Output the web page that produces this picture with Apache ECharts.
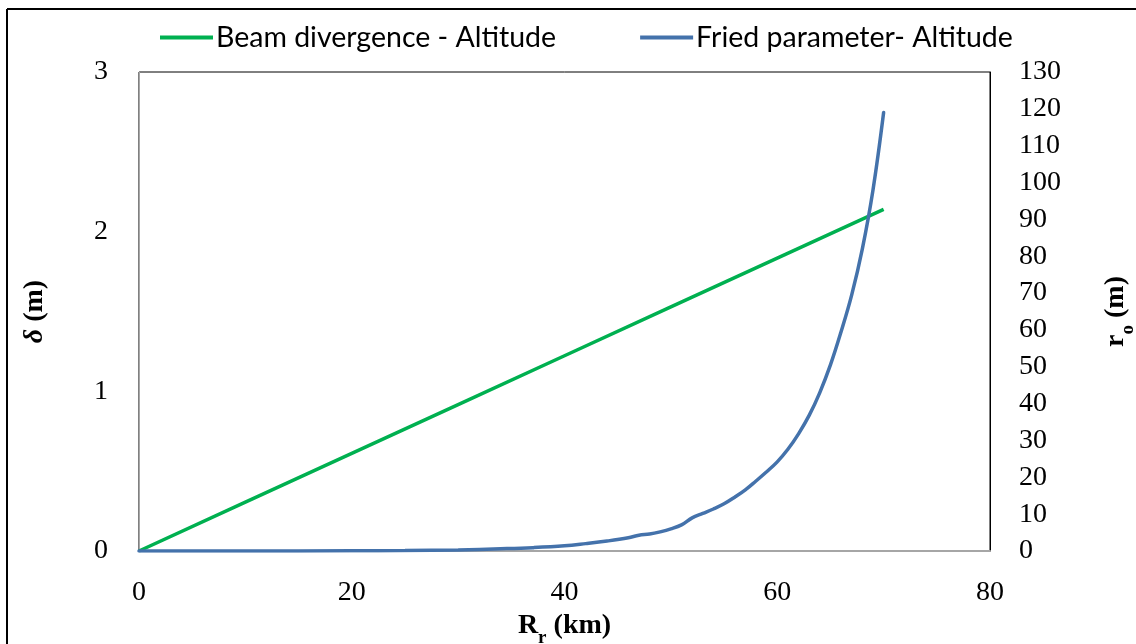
<!DOCTYPE html>
<html>
<head>
<meta charset="utf-8">
<script src="https://cdn.jsdelivr.net/npm/echarts@6/dist/echarts.min.js"></script>
<style>
  html, body { margin: 0; padding: 0; background: #fff; }
  #chart { width: 1136px; height: 644px; }
</style>
</head>
<body>
<div id="chart"></div>
<script>
// Range R_r (km) and beam divergence δ (m)
const beamKm = [0, 10, 20, 30, 40, 50, 60, 70];
const beamDelta = [0, 0.306, 0.611, 0.917, 1.223, 1.529, 1.834, 2.14];

// Range R_r (km) and Fried parameter r_o (m)
const friedKm = [0, 10, 20, 25, 30, 34, 37, 40, 42, 44, 46, 47, 48, 49, 50, 51, 52, 53, 54, 55, 56, 57, 58, 59, 60, 61, 62, 63, 64, 65, 66, 67, 68, 69, 70];
const friedR0 = [0, 0, 0.05, 0.12, 0.3, 0.6, 0.9, 1.4, 2.0, 2.7, 3.6, 4.3, 4.6, 5.2, 6.0, 7.1, 9.0, 10.2, 11.4, 12.8, 14.6, 16.6, 19.0, 21.5, 24.2, 27.6, 31.8, 36.8, 43, 50.5, 59.5, 69.5, 82, 98, 119];

const xTicks = [0, 20, 40, 60, 80];
const leftTicks = [0, 1, 2, 3];
const rightTicks = [0, 10, 20, 30, 40, 50, 60, 70, 80, 90, 100, 110, 120, 130];

const pair = (xs, ys) => xs.map((x, i) => [x, ys[i]]);

const tickFont = { fontFamily: 'Liberation Serif', fontSize: 28, color: '#000' };
const nameRich = {
  b: { fontFamily: 'Liberation Serif', fontWeight: 'bold', fontSize: 28, color: '#000' },
  i: { fontFamily: 'Liberation Serif', fontWeight: 'bold', fontStyle: 'italic', fontSize: 28, color: '#000' },
  s: { fontFamily: 'Liberation Serif', fontWeight: 'bold', fontSize: 19, color: '#000', verticalAlign: 'bottom', padding: [0, 0, -8, 0] }
};

const chart = echarts.init(document.getElementById('chart'), null, { renderer: 'canvas' });
chart.setOption({
  backgroundColor: '#fff',
  animation: false,
  graphic: [
    { type: 'line', shape: { x1: 7, y1: 9, x2: 1136, y2: 9 }, style: { stroke: '#000', lineWidth: 2 } },
    { type: 'line', shape: { x1: 7, y1: 9, x2: 7, y2: 644 }, style: { stroke: '#000', lineWidth: 2 } }
  ],
  legend: {
    left: 155,
    top: 18,
    itemWidth: 53,
    itemHeight: 4,
    itemGap: 84,
    icon: 'rect',
    textStyle: { fontFamily: 'Lato', fontSize: 28.5, color: '#000', padding: [0, 0, 0, -2] },
    data: ['Beam divergence - Altitude', 'Fried parameter- Altitude']
  },
  grid: {
    left: 139, right: 146, top: 72, bottom: 93,
    outerBoundsMode: 'none',
    containLabel: false,
    show: true, borderColor: '#000', borderWidth: 1
  },
  xAxis: {
    type: 'value', min: 0, max: 80, interval: 20,
    axisLine: { show: true, lineStyle: { color: '#a6a6a6', width: 2 } },
    axisTick: { show: false },
    splitLine: { show: false },
    axisLabel: Object.assign({ margin: 28, formatter: v => xTicks.includes(v) ? String(v) : '' }, tickFont),
    name: '{b|R}{s|r}{b| (km)}',
    nameLocation: 'middle',
    nameGap: 55,
    nameTextStyle: { rich: nameRich }
  },
  yAxis: [
    {
      type: 'value', min: 0, max: 3, interval: 1, position: 'left',
      axisLine: { show: true, onZero: false, lineStyle: { color: '#a6a6a6', width: 1 } },
      axisTick: { show: false },
      splitLine: { show: false },
      axisLabel: Object.assign({ margin: 31, formatter: v => leftTicks.includes(v) ? String(v) : '' }, tickFont),
      name: '{i|δ}{b| (m)}',
      nameLocation: 'middle',
      nameRotate: 90,
      nameGap: 90,
      nameTextStyle: { rich: nameRich }
    },
    {
      type: 'value', min: 0, max: 130, interval: 10, position: 'right',
      axisLine: { show: true, onZero: false, lineStyle: { color: '#000', width: 1 } },
      axisTick: { show: false },
      splitLine: { show: false },
      axisLabel: Object.assign({ margin: 29, formatter: v => rightTicks.includes(v) ? String(v) : '' }, tickFont),
      name: '{b|r}{s|o}{b| (m)}',
      nameLocation: 'middle',
      nameRotate: 90,
      nameGap: 112,
      nameTextStyle: { rich: nameRich }
    }
  ],
  series: [
    {
      name: 'Beam divergence - Altitude',
      type: 'line',
      yAxisIndex: 0,
      data: pair(beamKm, beamDelta),
      symbol: 'none',
      color: '#00b050',
      lineStyle: { color: '#00b050', width: 3.5 },
      z: 2
    },
    {
      name: 'Fried parameter- Altitude',
      type: 'line',
      yAxisIndex: 1,
      data: pair(friedKm, friedR0),
      symbol: 'none',
      smooth: 0.4,
      color: '#4472ab',
      lineStyle: { color: '#4472ab', width: 3.5, cap: 'round' },
      z: 3
    }
  ]
});
</script>
</body>
</html>
